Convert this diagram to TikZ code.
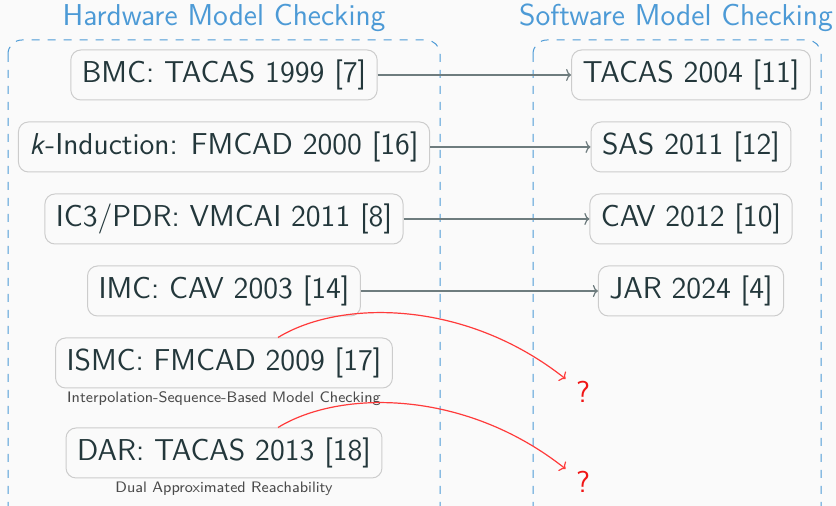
\documentclass[tikz,border=0pt]{standalone}
\usepackage{fontspec}
\usetikzlibrary{calc,arrows.meta}
\definecolor{txt}{HTML}{23373B}
\definecolor{boxline}{HTML}{CCCCCC}
\definecolor{bg}{HTML}{FAFAFA}
\definecolor{hdr}{HTML}{4C9AD6}
\definecolor{lnk}{HTML}{6E7C7E}
\definecolor{redln}{HTML}{FF3B3B}
\definecolor{redq}{HTML}{F01515}
\definecolor{subtxt}{HTML}{4A4A4A}
\tikzset{
  paper/.style={x=0.5pt,y=-0.5pt},
  pub/.style={draw=boxline,line width=0.5pt,rounded corners=5pt,fill=bg,text=txt,
    font=\sffamily\fontsize{15.1}{17}\selectfont,minimum height=25pt,inner xsep=5.5pt,inner ysep=0pt},
  subnote/.style={text=subtxt,font=\sffamily\fontsize{7.6}{9}\selectfont,inner sep=0pt},
  header/.style={text=hdr,font=\sffamily\fontsize{15.1}{17}\selectfont,inner sep=0pt},
  group/.style={draw=hdr,dash pattern=on 4pt off 4pt,line width=0.5pt,rounded corners=7pt},
  link/.style={draw=lnk,line width=0.6pt,-{To[length=2.5pt,width=6pt]}},
  redlink/.style={draw=redln,line width=0.6pt,-{To[length=2.5pt,width=6pt]}},
  quest/.style={text=redq,font=\sffamily\fontsize{15.1}{17}\selectfont,inner sep=0pt}
}
\begin{document}
\begin{tikzpicture}[paper]
\useasboundingbox[fill=bg] (0,0) rectangle (836,506);
\clip (0,0) rectangle (836,506);
\node[header] (hw) at (224,18) {Hardware Model Checking};
\node[header] (sw) at (676,18) {Software Model Checking};
\draw[group] (8,40) rectangle (440,520);
\draw[group] (533,40) rectangle (821,520);

\node[pub] (bmc) at (224,75) {BMC: TACAS 1999 [7]};
\node[pub] (kind) at (224,147) {\textsl{k}-Induction: FMCAD 2000 [16]};
\node[pub] (ic3) at (224,219) {IC3/PDR: VMCAI 2011 [8]};
\node[pub] (imc) at (224,291) {IMC: CAV 2003 [14]};
\node[pub] (ismc) at (224,363) {ISMC: FMCAD 2009 [17]};
\node[subnote] (ismcn) at (224,399) {Interpolation-Sequence-Based Model Checking};
\node[pub] (dar) at (224,453) {DAR: TACAS 2013 [18]};
\node[subnote] (darn) at (224,489) {Dual Approximated Reachability};

\node[pub] (tacas) at (691,75) {TACAS 2004 [11]};
\node[pub] (sas) at (691,147) {SAS 2011 [12]};
\node[pub] (cav) at (691,219) {CAV 2012 [10]};
\node[pub] (jar) at (691,291) {JAR 2024 [4]};
\node[quest] (q1) at (583,392) {?};
\node[quest] (q2) at (583,482) {?};

\draw[link] (bmc) -- (tacas);
\draw[link] (kind) -- (sas);
\draw[link] (ic3) -- (cav);
\draw[link] (imc) -- (jar);

\draw[redlink] ([xshift=27pt]ismc.north) .. controls ($([xshift=27pt]ismc.north)+(62,-38)$) and ($([shift={(-5pt,1pt)}]q1.north west)+(-101,-80)$) .. ([shift={(-5pt,1pt)}]q1.north west);
\draw[redlink] ([xshift=27pt]dar.north) .. controls ($([xshift=27pt]dar.north)+(62,-38)$) and ($([shift={(-5pt,1pt)}]q2.north west)+(-101,-80)$) .. ([shift={(-5pt,1pt)}]q2.north west);
\end{tikzpicture}
\end{document}
